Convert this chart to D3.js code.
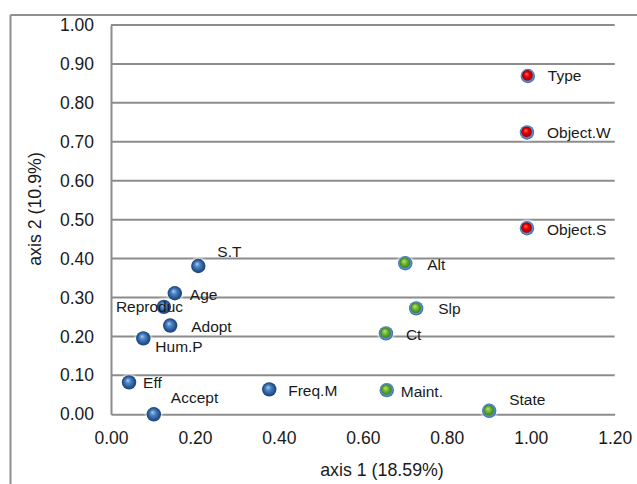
<!DOCTYPE html>
<html>
<head>
<meta charset="utf-8">
<script src="https://cdn.jsdelivr.net/npm/d3@7"></script>
<style>
  html, body { margin: 0; padding: 0; background: #fff; }
  svg { display: block; }
  text { font-family: "Liberation Sans", Arial, sans-serif; fill: #1a1a1a; }
</style>
</head>
<body>
<svg id="chart" width="637" height="484"></svg>
<script>
// ---- data ----
const blueNames = ["S.T", "Age", "Reproduc", "Adopt", "Hum.P", "Eff", "Accept", "Freq.M"];
const blueX     = [0.208, 0.152, 0.126, 0.141, 0.077, 0.043, 0.102, 0.377];
const blueY     = [0.381, 0.311, 0.276, 0.228, 0.195, 0.082, 0.000, 0.064];

const greenNames = ["Alt", "Slp", "Ct", "Maint.", "State"];
const greenX     = [0.701, 0.727, 0.655, 0.657, 0.901];
const greenY     = [0.388, 0.272, 0.208, 0.062, 0.009];

const redNames = ["Type", "Object.W", "Object.S"];
const redX     = [0.993, 0.991, 0.991];
const redY     = [0.869, 0.724, 0.478];

const xTicks = [0, 0.2, 0.4, 0.6, 0.8, 1.0, 1.2];
const yTicks = [0, 0.1, 0.2, 0.3, 0.4, 0.5, 0.6, 0.7, 0.8, 0.9, 1.0];
const xTitle = "axis 1 (18.59%)";
const yTitle = "axis 2 (10.9%)";

// label placement (pixels, relative to marker centre)
const labelOffset = {
  "S.T": [19, -14], "Age": [15, 1], "Reproduc": [-48, 0], "Adopt": [21, 1],
  "Hum.P": [12, 8], "Eff": [14, 0], "Accept": [17, -17], "Freq.M": [19, 1],
  "Alt": [22, 1], "Slp": [22, 0], "Ct": [20, 1], "Maint.": [14, 1], "State": [20, -11],
  "Type": [20, 0], "Object.W": [20, 0], "Object.S": [20, 1]
};

// ---- layout ----
const svg = d3.select("#chart");
const plot = { left: 111, right: 614.7, top: 25, bottom: 414.3 };
const x = d3.scaleLinear().domain([0, 1.2]).range([plot.left, plot.right]);
const y = d3.scaleLinear().domain([0, 1.0]).range([plot.bottom, plot.top]);

// gradients
const defs = svg.append("defs");
function sphere(id, stops) {
  const g = defs.append("radialGradient").attr("id", id)
    .attr("cx", "50%").attr("cy", "50%").attr("r", "50%")
    .attr("fx", "40%").attr("fy", "35%");
  stops.forEach(s => g.append("stop").attr("offset", s[0]).attr("stop-color", s[1]));
}
sphere("gBlue",  [["0%", "#a9cdf0"], ["35%", "#4f86c6"], ["80%", "#24528f"], ["100%", "#1e4478"]]);
sphere("gGreen", [["0%", "#b8e67a"], ["35%", "#72b536"], ["66%", "#3f8a22"], ["80%", "#5b8fd0"], ["100%", "#3a6aa8"]]);
sphere("gRed",   [["0%", "#ff6a6a"], ["35%", "#e60000"], ["66%", "#a80000"], ["80%", "#5b8fd0"], ["100%", "#3a6aa8"]]);
const glow = defs.append("filter").attr("id", "glow").attr("x", "-50%").attr("y", "-50%")
  .attr("width", "200%").attr("height", "200%");
glow.append("feGaussianBlur").attr("stdDeviation", 1.2);

// outer frame (top and left edges)
svg.append("line").attr("x1", 10.5).attr("x2", 637).attr("y1", 15).attr("y2", 15)
  .attr("stroke", "#8f8f8f").attr("stroke-width", 2);
svg.append("line").attr("x1", 10.5).attr("x2", 10.5).attr("y1", 15).attr("y2", 484)
  .attr("stroke", "#8f8f8f").attr("stroke-width", 2);

// horizontal gridlines
svg.append("g").selectAll("line").data(yTicks.filter(d => d > 0)).join("line")
  .attr("x1", plot.left).attr("x2", plot.right)
  .attr("y1", d => y(d)).attr("y2", d => y(d))
  .attr("stroke", "#8c8c8c").attr("stroke-width", 2);

// axes
const xAxis = svg.append("g").attr("transform", `translate(0,${plot.bottom})`)
  .call(d3.axisBottom(x).tickValues(xTicks).tickFormat(d3.format(".2f")).tickSize(0).tickPadding(17));
const yAxis = svg.append("g").attr("transform", `translate(${plot.left},0)`)
  .call(d3.axisLeft(y).tickValues(yTicks).tickFormat(d3.format(".2f")).tickSize(0).tickPadding(17));
[xAxis, yAxis].forEach(a => {
  a.select(".domain").attr("stroke", "#8c8c8c").attr("stroke-width", 2);
  a.selectAll("text").attr("font-size", "17.5px").attr("fill", "#1a1a1a")
    .attr("font-family", '"Liberation Sans", Arial, sans-serif');
});

// axis titles
svg.append("text").attr("x", 382).attr("y", 476).attr("text-anchor", "middle")
  .attr("font-size", "17.8px").text(xTitle);
svg.append("text").attr("transform", "translate(41,209) rotate(-90)")
  .attr("text-anchor", "middle").attr("font-size", "17.8px").text(yTitle);

// points
const series = [
  { names: blueNames,  xs: blueX,  ys: blueY,  fill: "url(#gBlue)" },
  { names: greenNames, xs: greenX, ys: greenY, fill: "url(#gGreen)" },
  { names: redNames,   xs: redX,   ys: redY,   fill: "url(#gRed)" }
];
const pts = series.flatMap(s => s.names.map((n, i) => ({ name: n, x: s.xs[i], y: s.ys[i], fill: s.fill })));

// soft halo behind markers
svg.append("g").selectAll("circle").data(pts).join("circle")
  .attr("cx", d => x(d.x)).attr("cy", d => y(d.y)).attr("r", 8.5)
  .attr("fill", "#ffffff").attr("opacity", 0.7).attr("filter", "url(#glow)");

svg.append("g").selectAll("circle").data(pts).join("circle")
  .attr("cx", d => x(d.x)).attr("cy", d => y(d.y)).attr("r", 7.2)
  .attr("fill", d => d.fill);

svg.append("g").selectAll("text").data(pts).join("text")
  .attr("x", d => x(d.x) + labelOffset[d.name][0])
  .attr("y", d => y(d.y) + labelOffset[d.name][1])
  .attr("dominant-baseline", "central")
  .attr("font-size", "15.5px")
  .text(d => d.name);
</script>
</body>
</html>
